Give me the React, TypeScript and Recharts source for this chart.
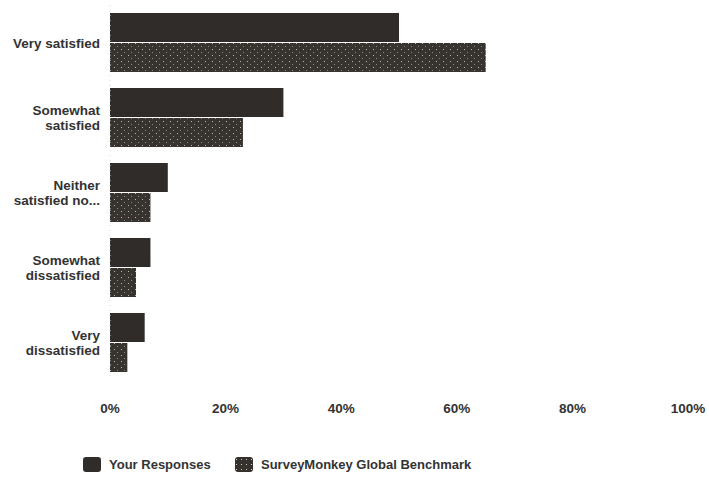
import React from "react";
import { BarChart, Bar, XAxis, YAxis, Legend } from "recharts";

const categories = [
  "Very satisfied",
  "Somewhat satisfied",
  "Neither satisfied no...",
  "Somewhat dissatisfied",
  "Very dissatisfied",
];
// how each label wraps on the axis
const categoryLines = [
  ["Very satisfied"],
  ["Somewhat", "satisfied"],
  ["Neither", "satisfied no..."],
  ["Somewhat", "dissatisfied"],
  ["Very", "dissatisfied"],
];
const yourResponses = [50, 30, 10, 7, 6];
const benchmark = [65, 23, 7, 4.5, 3];
const xTicks = [0, 20, 40, 60, 80, 100];

const data = categories.map((name, i) => ({
  name,
  yours: yourResponses[i],
  bench: benchmark[i],
}));

const FONT = "'Liberation Sans', Arial, sans-serif";

function CategoryTick({ x, y, payload }: any) {
  const idx = categories.indexOf(payload.value);
  const lines = idx >= 0 ? categoryLines[idx] : [payload.value];
  const lh = 15;
  const start = -((lines.length - 1) * lh) / 2;
  return (
    <text
      x={x}
      y={y}
      textAnchor="end"
      fill="#333"
      fontSize={13.5}
      fontWeight="bold"
      fontFamily={FONT}
    >
      {lines.map((l: string, i: number) => (
        <tspan key={i} x={x} dy={i === 0 ? start + 5 : lh}>
          {l}
        </tspan>
      ))}
    </text>
  );
}

function LegendContent() {
  const item = (label: string, fill: string, left: number) => (
    <div
      style={{
        position: "absolute",
        left,
        top: 0,
        display: "flex",
        alignItems: "center",
        whiteSpace: "nowrap",
      }}
    >
      <svg width={18} height={15} style={{ marginRight: 8 }}>
        <rect x={0} y={0} width={18} height={15} rx={3} fill={fill} />
      </svg>
      <span style={{ fontSize: 13, fontWeight: "bold", color: "#333", fontFamily: FONT }}>
        {label}
      </span>
    </div>
  );
  return (
    <div style={{ position: "relative", height: 16 }}>
      {item("Your Responses", "#302c29", 0)}
      {item("SurveyMonkey Global Benchmark", "url(#speckleLegend)", 152)}
      <svg width={0} height={0} style={{ position: "absolute" }}>
        <defs>
          <pattern id="speckleLegend" width={5} height={5} patternUnits="userSpaceOnUse">
            <rect width={5} height={5} fill="#35312d" />
            <rect x={1} y={2} width={1} height={1} fill="#cfcac2" />
          </pattern>
        </defs>
      </svg>
    </div>
  );
}

export default function App() {
  return (
    <div style={{ position: "absolute", left: 0, top: 0, background: "#fff" }}>
      <BarChart
        width={709}
        height={485}
        data={data}
        layout="vertical"
        margin={{ top: 5, right: 21, left: 0, bottom: 29 }}
        barSize={29}
        barGap={1}
      >
        <defs>
          <pattern id="speckle" width={7} height={6} patternUnits="userSpaceOnUse">
            <rect width={7} height={6} fill="#37332f" />
            <rect x={2} y={1} width={1} height={1} fill="#bdb8ae" />
            <rect x={5} y={4} width={1} height={1} fill="#8d887f" />
          </pattern>
        </defs>
        <XAxis
          type="number"
          domain={[0, 100]}
          ticks={xTicks}
          tickFormatter={(v) => `${v}%`}
          axisLine={false}
          tickLine={false}
          tickSize={0}
          tickMargin={23}
          height={60}
          tick={{ fontSize: 13.5, fontWeight: "bold", fill: "#333", fontFamily: FONT }}
        />
        <YAxis
          type="category"
          dataKey="name"
          width={110}
          axisLine={{ stroke: "#d8d8d8", strokeDasharray: "1 4" }}
          tickLine={false}
          tickSize={0}
          tickMargin={10}
          tick={<CategoryTick />}
          interval={0}
        />
        <Legend
          verticalAlign="bottom"
          align="left"
          content={<LegendContent />}
          wrapperStyle={{ left: 83, bottom: 12, width: 500 }}
        />
        <Bar dataKey="yours" name="Your Responses" fill="#302c29" isAnimationActive={false} />
        <Bar
          dataKey="bench"
          name="SurveyMonkey Global Benchmark"
          fill="url(#speckle)"
          isAnimationActive={false}
        />
      </BarChart>
    </div>
  );
}
